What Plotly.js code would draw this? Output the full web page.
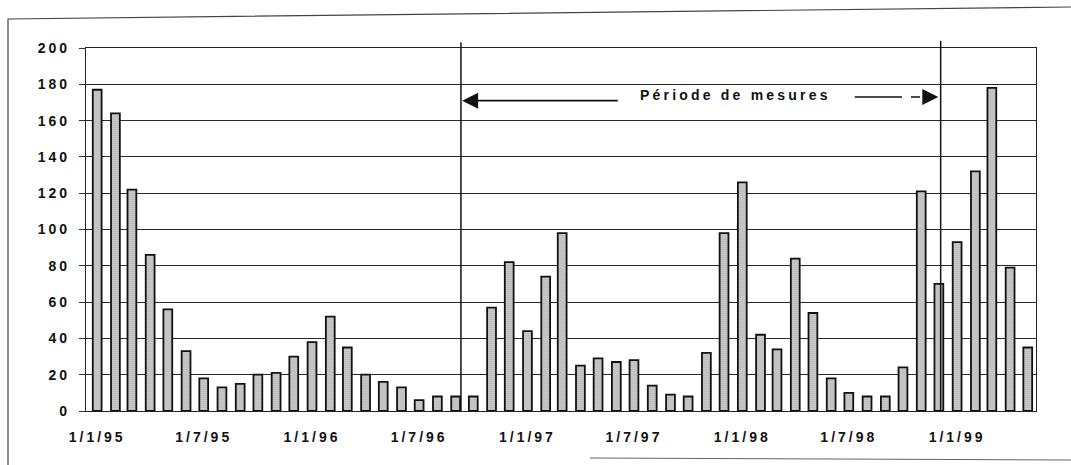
<!DOCTYPE html>
<html>
<head>
<meta charset="utf-8">
<script src="https://cdn.plot.ly/plotly-3.0.1.min.js"></script>
<style>
  html, body { margin: 0; padding: 0; background: #fff; }
  #chart { width: 1071px; height: 465px; }
  .xtick text, .ytick text { letter-spacing: 3px; }
  .annotation-text { letter-spacing: 3.2px; }
</style>
</head>
<body>
<div id="chart"></div>
<script>
// Monthly categories, Jan 1995 – May 1999
const months = [
  '1995-01-01','1995-02-01','1995-03-01','1995-04-01','1995-05-01','1995-06-01',
  '1995-07-01','1995-08-01','1995-09-01','1995-10-01','1995-11-01','1995-12-01',
  '1996-01-01','1996-02-01','1996-03-01','1996-04-01','1996-05-01','1996-06-01',
  '1996-07-01','1996-08-01','1996-09-01','1996-10-01','1996-11-01','1996-12-01',
  '1997-01-01','1997-02-01','1997-03-01','1997-04-01','1997-05-01','1997-06-01',
  '1997-07-01','1997-08-01','1997-09-01','1997-10-01','1997-11-01','1997-12-01',
  '1998-01-01','1998-02-01','1998-03-01','1998-04-01','1998-05-01','1998-06-01',
  '1998-07-01','1998-08-01','1998-09-01','1998-10-01','1998-11-01','1998-12-01',
  '1999-01-01','1999-02-01','1999-03-01','1999-04-01','1999-05-01'
];
const values = [
  177,164,122,86,56,33,18,13,15,20,21,30,
  38,52,35,20,16,13,6,8,8,8,57,82,
  44,74,98,25,29,27,28,14,9,8,32,98,
  126,42,34,84,54,18,10,8,8,24,121,70,
  93,132,178,79,35
];
const tickDates = ['1995-01-01','1995-07-01','1996-01-01','1996-07-01','1997-01-01',
                   '1997-07-01','1998-01-01','1998-07-01','1999-01-01'];
const tickLabels = ['1/1/95','1/7/95','1/1/96','1/7/96','1/1/97','1/7/97','1/1/98','1/7/98','1/1/99'];
const yTicks = [0,20,40,60,80,100,120,140,160,180,200];
const periodStart = '1996-09-10';
const periodEnd = '1998-12-04';
const periodLabel = 'Période de mesures';

const DAY = 86400000;
const font = {family: 'Liberation Sans, Arial, sans-serif', size: 14, color: '#111', weight: 'bold'};

const trace = {
  type: 'bar',
  x: months,
  y: values,
  width: 15 * DAY,
  marker: {
    color: '#c8c8c8',
    line: {color: '#111', width: 1.8},
    pattern: {shape: '.', bgcolor: '#d4d4d4', fgcolor: '#8a8a8a', size: 2, solidity: 0.3}
  },
  hoverinfo: 'x+y'
};

function px2paperX(px) { return (px - 86) / 950; }
function px2paperY(py) { return (411 - py) / 363; }

const layout = {
  width: 1071, height: 465,
  margin: {l: 86, r: 35, t: 48, b: 54},
  paper_bgcolor: '#fff', plot_bgcolor: '#fff',
  showlegend: false,
  bargap: 0,
  xaxis: {
    type: 'date',
    range: ['1994-12-13', '1999-05-15'],
    tickmode: 'array', tickvals: tickDates, ticktext: tickLabels,
    tickfont: font,
    showgrid: false, zeroline: false,
    showline: true, linecolor: '#222', linewidth: 1.2, mirror: true,
    ticks: '', ticklabelstandoff: 13
  },
  yaxis: {
    range: [0, 200],
    tickmode: 'array', tickvals: yTicks,
    tickfont: font,
    showgrid: true, gridcolor: '#2a2a2a', gridwidth: 1,
    zeroline: false,
    showline: true, linecolor: '#222', linewidth: 1.2, mirror: true,
    ticks: 'outside', ticklen: 6, tickcolor: '#333', ticklabelstandoff: 6
  },
  shapes: [
    {type: 'line', xref: 'x', yref: 'paper', x0: periodStart, x1: periodStart, y0: 0, y1: 1.015,
     line: {color: '#111', width: 1.5}},
    {type: 'line', xref: 'x', yref: 'paper', x0: periodEnd, x1: periodEnd, y0: 0, y1: 1.02,
     line: {color: '#111', width: 1.5}},
    // right arrow: solid then dashed part
    {type: 'line', xref: 'x', yref: 'y', x0: '1998-07-11', x1: '1998-09-14', y0: 173, y1: 173,
     line: {color: '#111', width: 1.6}},
    {type: 'line', xref: 'x', yref: 'y', x0: '1998-09-14', x1: '1998-11-02', y0: 173, y1: 173,
     line: {color: '#111', width: 1.6, dash: 'dash'}},
    // outer frame (scanned, slightly tilted)
    {type: 'path', xref: 'paper', yref: 'paper',
     path: 'M ' + px2paperX(8) + ',' + px2paperY(466) + ' L ' + px2paperX(8) + ',' + px2paperY(19) +
           ' L ' + px2paperX(1071) + ',' + px2paperY(7),
     line: {color: '#444', width: 1.2}},
    {type: 'line', xref: 'paper', yref: 'paper',
     x0: px2paperX(590), x1: px2paperX(1071), y0: px2paperY(458), y1: px2paperY(460),
     line: {color: '#666', width: 1}}
  ],
  annotations: [
    {xref: 'x', yref: 'y', x: '1997-12-20', y: 174, text: periodLabel, showarrow: false,
     font: font, xanchor: 'center', yanchor: 'middle'},
    {xref: 'x', yref: 'y', x: '1996-09-12', y: 171, axref: 'x', ayref: 'y',
     ax: '1997-06-06', ay: 171, text: '', showarrow: true,
     arrowhead: 2, arrowsize: 2, arrowwidth: 1.6, arrowcolor: '#111', standoff: 0},
    {xref: 'x', yref: 'y', x: '1998-11-30', y: 173, axref: 'x', ayref: 'y',
     ax: '1998-11-01', ay: 173, text: '', showarrow: true,
     arrowhead: 2, arrowsize: 2, arrowwidth: 1.6, arrowcolor: '#111', standoff: 0}
  ]
};

Plotly.newPlot('chart', [trace], layout, {displayModeBar: false, staticPlot: true});
</script>
</body>
</html>
